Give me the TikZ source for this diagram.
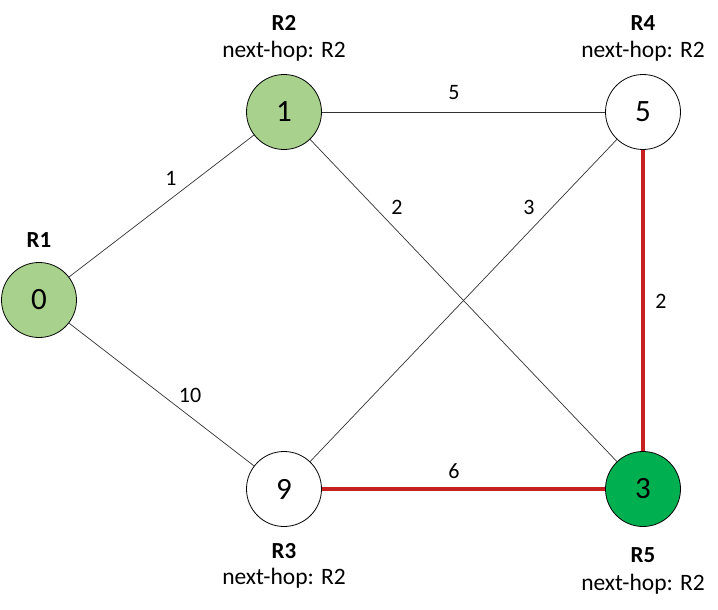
\documentclass[tikz,border=0pt]{standalone}
\usepackage{fontspec}
\setmainfont{Carlito}
\definecolor{lgreen}{HTML}{A9D18E}
\definecolor{dgreen}{HTML}{00B050}
\definecolor{rline}{HTML}{C82020}
\begin{document}
\begin{tikzpicture}[x=1pt,y=-1pt,
  router/.style={circle,draw=black,line width=0.8pt,minimum size=75pt,inner sep=0pt,font=\fontsize{31}{34}\selectfont},
  edge/.style={draw=black!80,line width=0.7pt},
  hot/.style={draw=rline,line width=3.5pt},
  wlabel/.style={font=\fontsize{22}{26}\selectfont},
  rname/.style={font=\bfseries\fontsize{23}{27}\selectfont},
  nhop/.style={font=\fontsize{23.5}{28}\selectfont}]
\useasboundingbox (0,0) rectangle (718,610);
\fill[white] (0,0) rectangle (718,610);
\node[router,fill=lgreen] (r1) at (39,300) {0};
\node[router,fill=lgreen] (r2) at (284,112) {1};
\node[router,fill=white] (r4) at (643,112) {5};
\node[router,fill=white] (r3) at (284,489) {9};
\node[router,fill=dgreen] (r5) at (643,489) {3};
\draw[edge] (r1) -- (r2);
\draw[edge] (r1) -- (r3);
\draw[edge] (r2) -- (r4);
\draw[edge] (r2) -- (r5);
\draw[edge] (r4) -- (r3);
\draw[hot] (r4) -- (r5);
\draw[hot] (r3) -- (r5);
\node[wlabel] (w1) at (171,178) {1};
\node[wlabel] (w2) at (454,93) {5};
\node[wlabel] (w3) at (397,207) {2};
\node[wlabel] (w4) at (529,207) {3};
\node[wlabel] (w5) at (661,301) {2};
\node[wlabel] (w6) at (190,395) {10};
\node[wlabel] (w7) at (454,471) {6};
\node[rname] (n1) at (39,240) {R1};
\node[rname] (n2) at (284,23) {R2};
\node[nhop] (h2) at (284,51) {next-hop: R2};
\node[rname] (n4) at (643,23) {R4};
\node[nhop] (h4) at (643,51) {next-hop: R2};
\node[rname] (n3) at (284,551) {R3};
\node[nhop] (h3) at (284,578) {next-hop: R2};
\node[rname] (n5) at (643,555) {R5};
\node[nhop] (h5) at (643,584) {next-hop: R2};
\end{tikzpicture}
\end{document}
